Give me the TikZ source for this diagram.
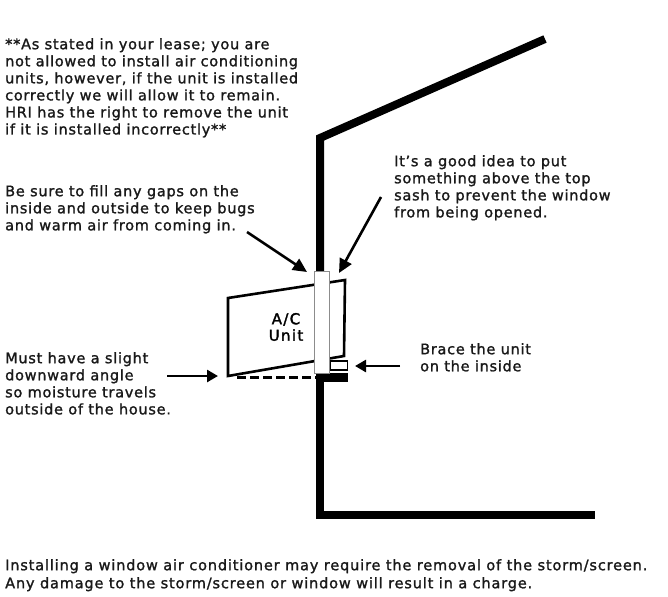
\documentclass[tikz,border=0pt]{standalone}
\usepackage{fontspec}
\setmainfont[FakeBold=1.4,LetterSpace=5]{DejaVu Sans}
\newfontfamily\heavy[FakeBold=2,LetterSpace=9]{DejaVu Sans}
\newfontfamily\footfont[FakeBold=1.4,LetterSpace=5.8]{DejaVu Sans}
\usetikzlibrary{arrows.meta}
\tikzset{
  wall/.style={line width=8pt,line cap=butt,line join=miter,draw=black},
  note/.style={anchor=north west,inner sep=0pt,align=left,font=\fontsize{14.5}{17.05}\selectfont,text=black!90},
  pointer/.style={line width=2.6pt,-{Triangle[length=14pt,width=13pt]}},
  shortpointer/.style={line width=2.6pt,-{Triangle[length=11pt,width=12pt]}},
  unit/.style={draw=black,fill=white,line width=2.6pt,line join=miter}
}
\begin{document}
\begin{tikzpicture}[x=1pt,y=-1pt]
\useasboundingbox (0,0) rectangle (668,596);
\fill[white] (0,0) rectangle (668,596);
% wall
\coordinate (roof) at (545,39);
\coordinate (eave) at (320,138);
\coordinate (lowwall) at (320,515);
\coordinate (floor) at (595,515);
\coordinate (sashT) at (320,272);
\draw[wall] (roof) -- (eave) -- (sashT);
\draw[wall] (320,373) -- (lowwall) -- (floor);
\fill[black] (316,373) rectangle (348,382);
% unit
\draw[unit] (228,298) -- (345,280) -- (344,356) -- (228,376) -- cycle;
\node[font=\heavy\fontsize{15}{16.5}\selectfont,align=center,inner sep=0pt] (ac) at (286,327) {A/C\\Unit};
\node[draw=black!45,fill=white,line width=0.7pt,minimum width=15pt,minimum height=102pt,inner sep=0pt] (sash) at (321.5,322.5) {};
\node[draw=black,fill=white,line width=1.6pt,minimum width=17pt,minimum height=8.5pt,inner sep=0pt] (brace) at (339,365.5) {};
\draw[line width=3pt,dash pattern=on 9pt off 4pt] (237,377) -- (316,377);
% notes
\node[note] (lease) at (5,38) {**As stated in your lease; you are\\not allowed to install air conditioning\\units, however, if the unit is installed\\correctly we will allow it to remain.\\HRI has the right to remove the unit\\if it is installed incorrectly**};
\node[note] (gaps) at (5,185) {Be sure to fill any gaps on the\\inside and outside to keep bugs\\and warm air from coming in.};
\node[note] (top) at (394,155) {It's a good idea to put\\something above the top\\sash to prevent the window\\from being opened.};
\node[note] (angle) at (5,352) {Must have a slight\\downward angle\\so moisture travels\\outside of the house.};
\node[note] (bracet) at (420,343) {Brace the unit\\on the inside};
\node[note,font=\footfont\fontsize{14.5}{18}\selectfont] (foot) at (5,559) {Installing a window air conditioner may require the removal of the storm/screen.\\Any damage to the storm/screen or window will result in a charge.};
% arrows
\coordinate (a1s) at (247,232); \coordinate (a1e) at (307,272);
\coordinate (a2s) at (381,197); \coordinate (a2e) at (339,273);
\coordinate (a3s) at (167,376); \coordinate (a3e) at (218,376);
\coordinate (a4s) at (400,366); \coordinate (a4e) at (355,366);
\draw[pointer] (a1s) -- (a1e);
\draw[pointer] (a2s) -- (a2e);
\draw[shortpointer] (a3s) -- (a3e);
\draw[shortpointer] (a4s) -- (a4e);
\end{tikzpicture}
\end{document}
